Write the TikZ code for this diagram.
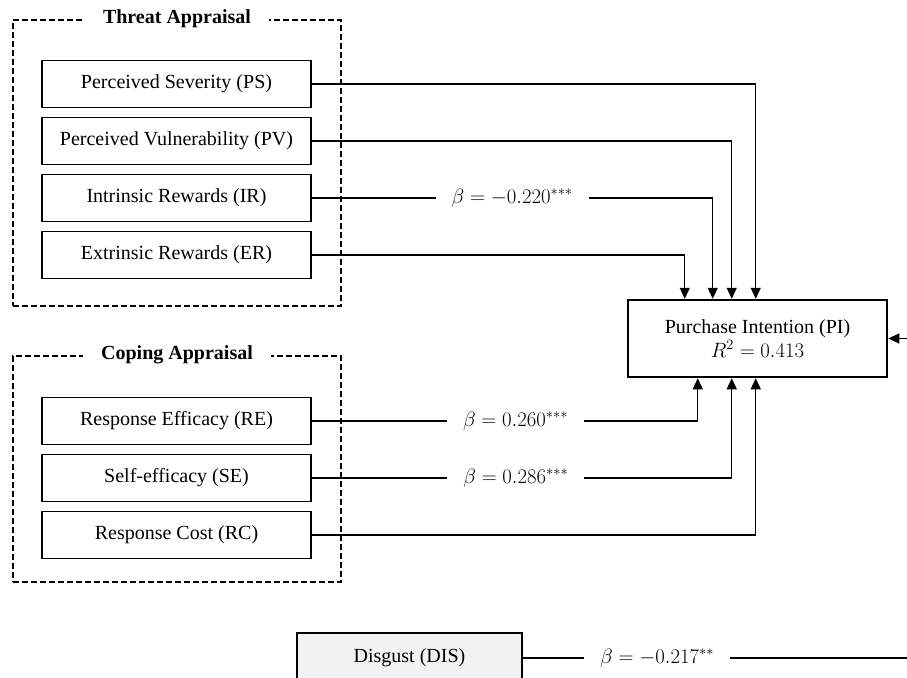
\documentclass[tikz,border=0pt]{standalone}
\usepackage{fontspec}
\setmainfont{Liberation Serif}
\usetikzlibrary{arrows.meta}

\tikzset{
  item/.style={draw, line width=1.3pt, minimum width=269pt, minimum height=47pt, font=\fontsize{20}{24}\selectfont},
  group/.style={draw, dashed, dash pattern=on 6pt off 3pt, line width=1.8pt, minimum width=328pt},
  grouptitle/.style={fill=white, inner xsep=18pt, font=\fontsize{20}{24}\selectfont\bfseries},
  link/.style={line width=1.2pt, -{Triangle[length=11pt,width=10pt]}},
  beta/.style={fill=white, inner xsep=16pt, font=\fontsize{22}{26}\selectfont}
}

\begin{document}
\begin{tikzpicture}[x=1pt, y=-1pt]
  \useasboundingbox (0,0) rectangle (907,677);
  \clip (0,0) rectangle (907,677);
  \fill[white] (0,0) rectangle (907,677);

  % appraisal groups
  \node[group, minimum height=286pt] (TA) at (177,163) {};
  \node[grouptitle] (TAtitle) at (TA.north) {Threat Appraisal};
  \node[group, minimum height=226pt] (CA) at (177,469) {};
  \node[grouptitle] (CAtitle) at (CA.north) {Coping Appraisal};

  % constructs
  \node[item] (PS) at (176.5,84) {Perceived Severity (PS)};
  \node[item] (PV) at (176.5,141) {Perceived Vulnerability (PV)};
  \node[item] (IR) at (176.5,198) {Intrinsic Rewards (IR)};
  \node[item] (ER) at (176.5,255) {Extrinsic Rewards (ER)};
  \node[item] (RE) at (176.5,421) {Response Efficacy (RE)};
  \node[item] (SE) at (176.5,478) {Self-efficacy (SE)};
  \node[item] (RC) at (176.5,535) {Response Cost (RC)};

  \node[draw, line width=2.5pt, minimum width=259pt, minimum height=77pt, align=center,
        font=\fontsize{20}{24}\selectfont] (PI) at (757.5,338.5)
        {Purchase Intention (PI)\\$R^2 = 0.413$};
  \node[item, fill=black!5, minimum width=225pt, minimum height=50pt] (DIS) at (409.5,658) {Disgust (DIS)};
  \coordinate (DISturn) at (930,658);

  % paths
  \draw[link] (PS) -| ([xshift=129pt]PI.north west);
  \draw[link] (PV) -| ([xshift=105pt]PI.north west);
  \draw[link] (IR) -| node[beta, pos=0.25] {$\beta = -0.220^{***}$} ([xshift=86pt]PI.north west);
  \draw[link] (ER) -| ([xshift=58pt]PI.north west);
  \draw[link] (RE) -| node[beta, pos=0.264] {$\beta = 0.260^{***}$} ([xshift=71pt]PI.south west);
  \draw[link] (SE) -| node[beta, pos=0.243] {$\beta = 0.286^{***}$} ([xshift=105pt]PI.south west);
  \draw[link] (RC) -| ([xshift=129pt]PI.south west);
  \draw[link] (DIS) -- node[beta, pos=0.33] {$\beta = -0.217^{**}$} (DISturn) |- (PI);
\end{tikzpicture}
\end{document}
